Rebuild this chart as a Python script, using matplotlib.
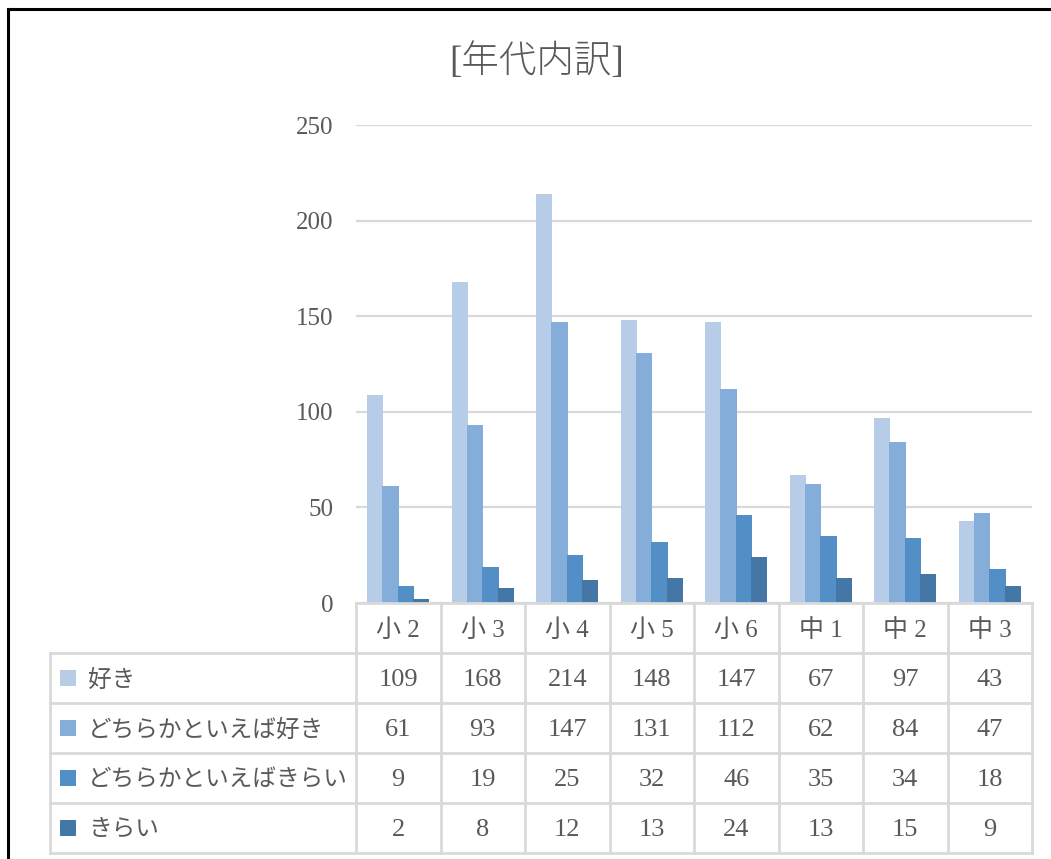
import matplotlib
matplotlib.use('Agg')
import matplotlib.pyplot as plt
from matplotlib.patches import Rectangle
from matplotlib.lines import Line2D

categories = ['小 2', '小 3', '小 4', '小 5', '小 6', '中 1', '中 2', '中 3']
series_names = ['好き', 'どちらかといえば好き', 'どちらかといえばきらい', 'きらい']
suki = [109, 168, 214, 148, 147, 67, 97, 43]
dochira_suki = [61, 93, 147, 131, 112, 62, 84, 47]
dochira_kirai = [9, 19, 25, 32, 46, 35, 34, 18]
kirai = [2, 8, 12, 13, 24, 13, 15, 9]
series_values = [suki, dochira_suki, dochira_kirai, kirai]
colors = ['#B7CCE6', '#84AED9', '#528FC6', '#4477A5']
yticks = [0, 50, 100, 150, 200, 250]

TEXT = '#595959'
GRID = '#D9D9D9'
fonts = ['Liberation Serif', 'Noto Sans CJK JP', 'DejaVu Sans']
plt.rcParams['font.family'] = fonts

W, H = 1051, 859
fig = plt.figure(figsize=(W / 100, H / 100), dpi=100)


def fig_box(x0, y0, x1, y1):
    # pixel box (top-left origin) -> figure fraction rect
    return [x0 / W, 1 - y1 / H, (x1 - x0) / W, (y1 - y0) / H]


# frame of the chart (cropped on right/bottom)
fig.add_artist(Line2D([8 / W, 1.0], [1 - 9 / H, 1 - 9 / H], color='black', lw=2.2,
                      transform=fig.transFigure))
fig.add_artist(Line2D([8 / W, 8 / W], [0, 1 - 9 / H], color='black', lw=2.2,
                      transform=fig.transFigure))

# bar area
px0, px1, py0, py1 = 356, 1032, 125, 603
ax = fig.add_axes(fig_box(px0, py0, px1, py1))
n = len(categories)
bar_w = 0.19
step = 0.183
for i, (vals, c) in enumerate(zip(series_values, colors)):
    xs = [k + (i - 1.5) * step for k in range(n)]
    ax.bar(xs, vals, width=bar_w, color=c, zorder=3, linewidth=0)
ax.set_xlim(-0.5, n - 0.5)
ax.set_ylim(0, 250)
ax.set_yticks(yticks)
ax.set_yticklabels([str(v) for v in yticks], fontsize=18, color=TEXT)
ax.tick_params(axis='y', length=0, pad=16)
ax.set_xticks([])
for s in ['top', 'right', 'left', 'bottom']:
    ax.spines[s].set_visible(False)
ax.grid(axis='y', color=GRID, lw=1.6, zorder=0)

# data table below
tx0, ty0, ty1 = 50, 603, 853
cat_px = (px1 - px0) / n
left_units = (px0 - tx0) / cat_px
tab = fig.add_axes(fig_box(tx0, ty0, px1, ty1))
tab.set_xlim(-0.5 - left_units, n - 0.5)
tab.set_ylim(5, 0)
tab.axis('off')
lkw = dict(color=GRID, lw=2, clip_on=False, solid_capstyle='projecting')
xl = -0.5 - left_units
# horizontal lines
tab.plot([-0.5, n - 0.5], [0, 0], **lkw)
for r in range(1, 6):
    tab.plot([xl, n - 0.5], [r, r], **lkw)
# vertical lines
tab.plot([xl, xl], [1, 5], **lkw)
for k in range(n + 1):
    tab.plot([k - 0.5, k - 0.5], [0, 5], **lkw)

dy = 0.05
for k, cat in enumerate(categories):
    tab.text(k, 0.5 + dy, cat, ha='center', va='center', fontsize=18, color=TEXT)
for r, (name, vals, c) in enumerate(zip(series_names, series_values, colors)):
    yc = r + 1.5
    tab.add_patch(Rectangle((xl + 10 / cat_px, yc - 0.16), 16 / cat_px, 0.32,
                            color=c, lw=0, clip_on=False))
    tab.text(xl + 38 / cat_px, yc + dy, name, ha='left', va='center', fontsize=17,
             color=TEXT)
    for k, v in enumerate(vals):
        tab.text(k, yc + dy, str(v), ha='center', va='center', fontsize=19,
                 color=TEXT)

fig.text(537 / W, 1 - 62 / H, '[年代内訳]', ha='center', va='center', fontsize=27,
         color=TEXT, fontweight='light')

fig.savefig('out.png', dpi=100, facecolor='white')
